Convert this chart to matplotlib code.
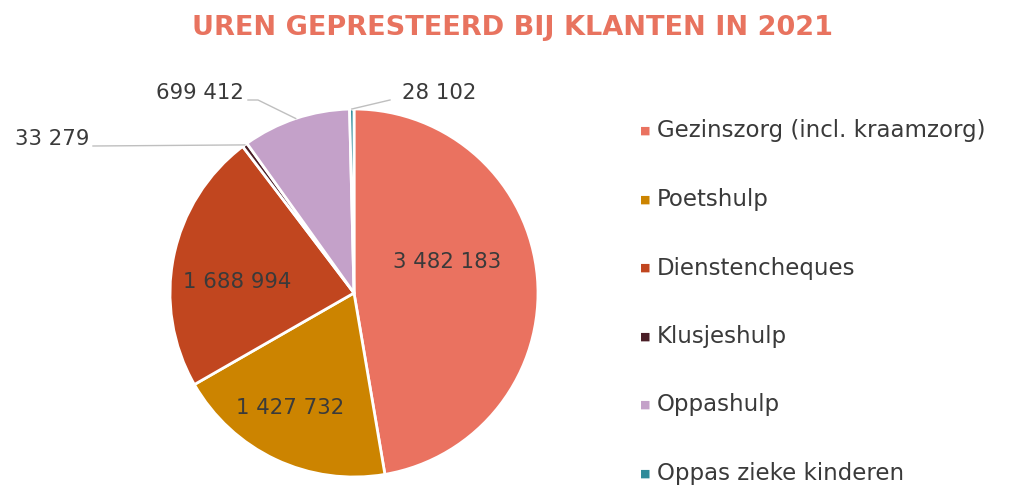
import matplotlib
matplotlib.use("Agg")
import matplotlib.pyplot as plt
import numpy as np

categories = ["Gezinszorg (incl. kraamzorg)", "Poetshulp", "Dienstencheques",
              "Klusjeshulp", "Oppashulp", "Oppas zieke kinderen"]
hours = [3482183, 1427732, 1688994, 33279, 699412, 28102]
colors = ["#EA7260", "#CC8400", "#C1461F", "#4A1E26", "#C4A1C9", "#2E8B9A"]
title = "UREN GEPRESTEERD BIJ KLANTEN IN 2021"

W, H = 1009, 487
cx, cy, R = 354, 293, 184   # pie centre and radius in pixels

def fmt(v):
    return f"{v:,}".replace(",", " ")

def px(x, y):
    # pixel position -> data coords of the pie axes
    return (x - cx) / R, (cy - y) / R

fig = plt.figure(figsize=(W / 100, H / 100), dpi=100)
ax = fig.add_axes([0, 0, 1, 1])
wedges, _ = ax.pie(hours, colors=colors, startangle=90, counterclock=False,
                   wedgeprops=dict(edgecolor="white", linewidth=2))
ax.set_aspect("auto")
ax.set_xlim(-cx / R, (W - cx) / R)
ax.set_ylim(-(H - cy) / R, cy / R)
ax.axis("off")

txt = "#3A3A3A"
fs = 15.3
# labels inside the big slices
inside = {0: (447, 262), 1: (290, 408), 2: (237, 282)}
for i, (x, y) in inside.items():
    ax.text(*px(x, y), fmt(hours[i]), ha="center", va="center", fontsize=fs, color=txt)

# small slices: leader lines from the wedge edge
def edge(i):
    w = wedges[i]
    a = np.deg2rad((w.theta1 + w.theta2) / 2)
    return np.cos(a), np.sin(a)

lc = "#BFBFBF"
# Oppashulp
ex, ey = edge(4)
p1, p2 = px(258, 100), px(248, 100)
ax.plot([ex, p1[0], p2[0]], [ey, p1[1], p2[1]], color=lc, lw=1)
ax.text(*px(244, 93), fmt(hours[4]), ha="right", va="center", fontsize=fs, color=txt)
# Klusjeshulp
ex, ey = edge(3)
p1 = px(93, 146)
ax.plot([ex, p1[0]], [ey, p1[1]], color=lc, lw=1)
ax.text(*px(89, 139), fmt(hours[3]), ha="right", va="center", fontsize=fs, color=txt)
# Oppas zieke kinderen
ex, ey = edge(5)
p1 = px(390, 100)
ax.plot([ex, p1[0]], [ey, p1[1]], color=lc, lw=1)
ax.text(*px(402, 93), fmt(hours[5]), ha="left", va="center", fontsize=fs, color=txt)

# legend
for i, name in enumerate(categories):
    y = 131 + i * 68.5
    fig.text(645 / W, 1 - y / H, "\u25A0", fontsize=8, color=colors[i], ha="center", va="center")
    fig.text(657 / W, 1 - y / H, name, fontsize=16.5, color=txt, ha="left", va="center")

fig.text(513 / W, 1 - 28 / H, title, fontsize=19.5, fontweight="bold", color="#E8735F",
         ha="center", va="center")

fig.savefig("out.png", dpi=100, facecolor="white")
